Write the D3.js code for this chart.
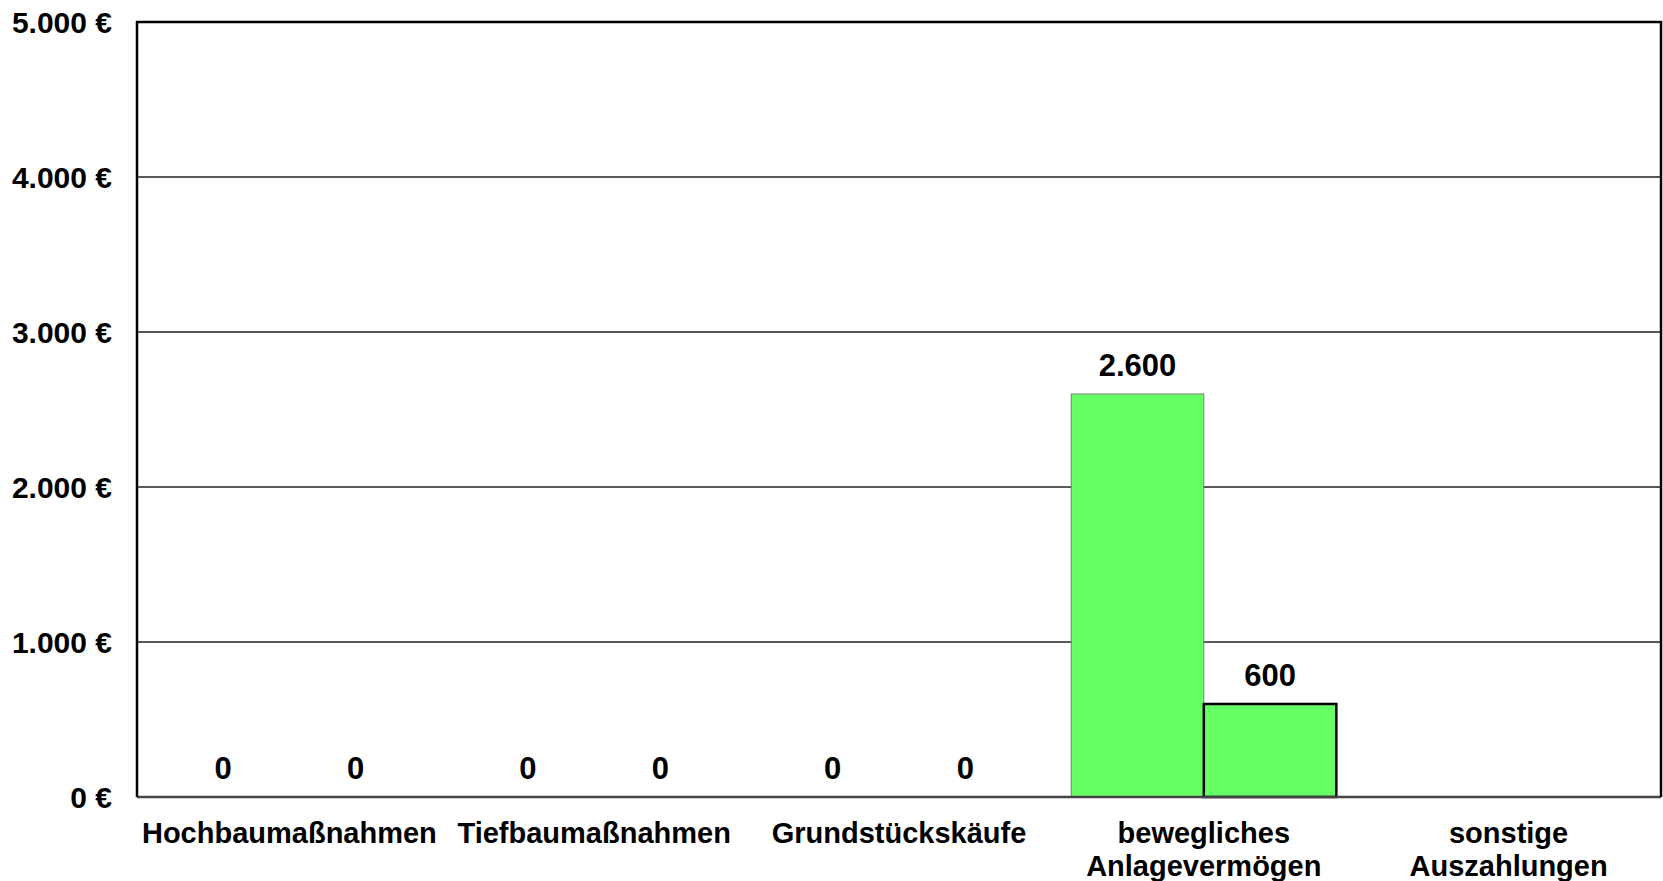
<!DOCTYPE html>
<html>
<head>
<meta charset="utf-8">
<script src="https://cdn.jsdelivr.net/npm/d3@7"></script>
<style>
  html, body { margin: 0; padding: 0; background: #fff; }
  svg { display: block; font-family: "Liberation Sans", Arial, sans-serif; font-weight: bold; }
</style>
</head>
<body>
<svg id="chart" width="1663" height="881"></svg>
<script>
// ---- data ----
const categories = [
  ["Hochbaumaßnahmen"],
  ["Tiefbaumaßnahmen"],
  ["Grundstückskäufe"],
  ["bewegliches", "Anlagevermögen"],
  ["sonstige", "Auszahlungen"]
];
const seriesNames = ["Reihe 1", "Reihe 2"];
const series1 = [0, 0, 0, 2600, null];
const series2 = [0, 0, 0, 600, null];
const yTicks = [0, 1000, 2000, 3000, 4000, 5000];
const yMax = 5000;

// ---- layout ----
const W = 1663, H = 881;
const margin = { left: 137, right: 2, top: 22, bottom: 84 };
const iw = W - margin.left - margin.right;
const ih = H - margin.top - margin.bottom;

const de = d3.formatLocale({ decimal: ",", thousands: ".", grouping: [3], currency: ["", " €"] });
const fmtNum = de.format(",.0f");

const svg = d3.select("#chart");
const g = svg.append("g").attr("transform", `translate(${margin.left},${margin.top})`);

const catKeys = categories.map((c, i) => i);
const x0 = d3.scaleBand().domain(catKeys).range([0, iw]).padding(0);
const x1 = d3.scaleBand().domain(seriesNames).range([0, x0.bandwidth()]).paddingInner(0).paddingOuter(0.15);
const y = d3.scaleLinear().domain([0, yMax]).range([ih, 0]);

// gridlines
g.append("g").selectAll("line").data(yTicks.filter(t => t > 0 && t < yMax)).join("line")
  .attr("x1", 0).attr("x2", iw)
  .attr("y1", d => y(d)).attr("y2", d => y(d))
  .attr("stroke", "#222").attr("stroke-width", 1.3);

// y tick labels
g.append("g").selectAll("text").data(yTicks).join("text")
  .attr("x", -25).attr("y", d => y(d))
  .attr("text-anchor", "end").attr("dominant-baseline", "central")
  .attr("font-size", 30).attr("fill", "#000")
  .text(d => fmtNum(d) + " €");

// bars
const data = catKeys.map(i => ({ i, vals: [series1[i], series2[i]] }));
const styles = [
  { stroke: "#7a7a7a", sw: 1 },
  { stroke: "#000", sw: 2.5 }
];
const groups = g.append("g").selectAll("g").data(data).join("g")
  .attr("transform", d => `translate(${x0(d.i)},0)`);

groups.selectAll("rect").data(d => d.vals.map((v, k) => ({ v, k })).filter(e => e.v != null && e.v > 0)).join("rect")
  .attr("x", e => x1(seriesNames[e.k]))
  .attr("y", e => y(e.v))
  .attr("width", x1.bandwidth())
  .attr("height", e => ih - y(e.v))
  .attr("fill", "#66FF66")
  .attr("stroke", e => styles[e.k].stroke)
  .attr("stroke-width", e => styles[e.k].sw);

groups.selectAll("text").data(d => d.vals.map((v, k) => ({ v, k })).filter(e => e.v != null)).join("text")
  .attr("x", e => x1(seriesNames[e.k]) + x1.bandwidth() / 2)
  .attr("y", e => y(e.v) - 18)
  .attr("text-anchor", "middle")
  .attr("font-size", 31).attr("fill", "#000")
  .text(e => fmtNum(e.v));

// frame: left, top, right black; bottom axis
g.append("line").attr("x1", 0).attr("x2", iw).attr("y1", ih).attr("y2", ih)
  .attr("stroke", "#444").attr("stroke-width", 2.5);
g.append("path")
  .attr("d", `M0,${ih}V0H${iw}V${ih}`)
  .attr("fill", "none").attr("stroke", "#000").attr("stroke-width", 2.5);

// category labels
const catLabels = g.append("g").selectAll("text").data(categories.map((lines, i) => ({ lines, i }))).join("text")
  .attr("x", d => x0(d.i) + x0.bandwidth() / 2)
  .attr("y", ih + 46)
  .attr("text-anchor", "middle")
  .attr("font-size", 29).attr("fill", "#000");
catLabels.selectAll("tspan").data(d => d.lines.map((t, j) => ({ t, j, x: x0(d.i) + x0.bandwidth() / 2 }))).join("tspan")
  .attr("x", e => e.x)
  .attr("dy", e => e.j === 0 ? 0 : 33)
  .text(e => e.t);
</script>
</body>
</html>
